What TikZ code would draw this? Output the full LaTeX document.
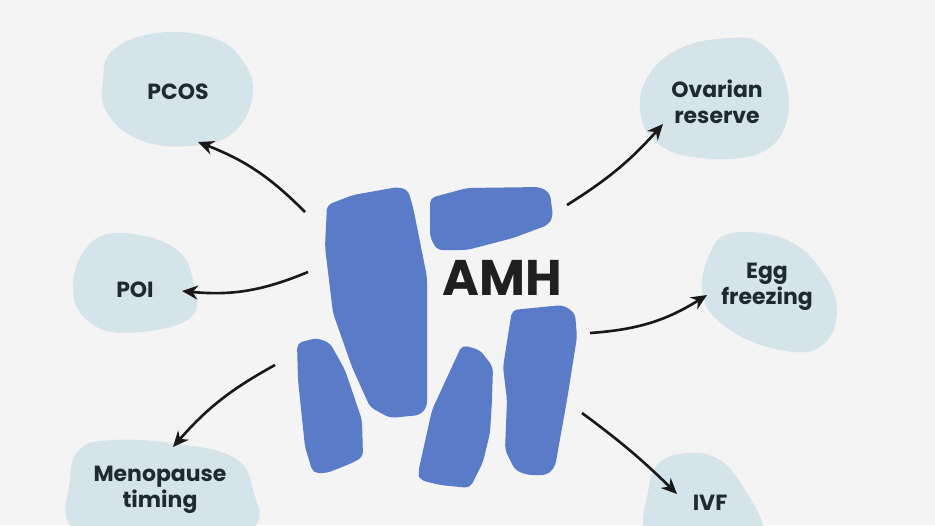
\documentclass[tikz,border=0pt]{standalone}
\usepackage{fontspec}
\setmainfont{Poppins}
\usetikzlibrary{arrows.meta}

\definecolor{bgcol}{HTML}{F5F4F4}
\definecolor{blobcol}{HTML}{D5E4EB}
\definecolor{amhblue}{HTML}{5A7BC8}
\definecolor{inkcol}{HTML}{1E2A32}

\tikzset{
  blob/.style={fill=blobcol, draw=none},
  piece/.style={fill=amhblue, draw=none, rounded corners=3pt},
  lbl/.style={align=center, text=inkcol, font=\bfseries\fontsize{12.5}{14.8}\selectfont},
  link/.style={-{Stealth[length=9pt,width=8pt]}, line width=1.5pt, draw=black!90}
}

\begin{document}
\begin{tikzpicture}[x=0.02cm, y=-0.02cm]
        % Canvas
        \useasboundingbox (0,0) rectangle (935,525);
        \fill[bgcol] (0,0) rectangle (935,525);
        \clip (0,0) rectangle (935,525);

        % Blobs behind the labels
        \fill[blob] plot[smooth cycle, tension=0.7] coordinates
            {(113,50) (157,33) (210,37) (240,57) (253,93) (233,133) (190,146) (140,140) (107,113) (103,80)};
        \fill[blob] plot[smooth cycle, tension=0.7] coordinates
            {(730,38) (760,43) (783,73) (787,120) (760,153) (700,158) (657,143) (640,110) (650,73) (683,47)};
        \fill[blob] plot[smooth cycle, tension=0.7] coordinates
            {(120,233) (173,247) (193,280) (190,318) (127,333) (87,320) (73,287) (87,247)};
        \fill[blob] plot[smooth cycle, tension=0.7] coordinates
            {(733,233) (787,240) (823,273) (837,313) (820,347) (780,350) (730,330) (703,297) (710,253)};
        \fill[blob] plot[smooth cycle, tension=0.7] coordinates
            {(113,440) (170,443) (233,457) (253,490) (250,530) (160,545) (75,530) (70,480) (80,449)};
        \fill[blob] plot[smooth cycle, tension=0.7] coordinates
            {(687,453) (720,460) (743,487) (763,525) (760,550) (650,550) (643,525) (647,497) (657,465)};

        % AMH pieces
        \fill[piece] (327,205) -- (353,195) -- (398,187) -- (408,190) -- (413,207) -- (427,277)
            -- (427,407) -- (420,415) -- (390,418) -- (370,407) -- (352,367) -- (333,313) -- (325,247) -- cycle;
        \fill[piece] (430,198) -- (467,188) -- (540,187) -- (550,193) -- (553,217) -- (548,225)
            -- (513,238) -- (467,250) -- (437,250) -- (430,237) -- cycle;
        \fill[piece] (297,343) -- (317,338) -- (330,343) -- (345,370) -- (362,420) -- (363,457)
            -- (352,463) -- (327,473) -- (313,473) -- (305,447) -- (298,380) -- cycle;
        \fill[piece] (462,345) -- (480,350) -- (493,367) -- (492,400) -- (490,433) -- (483,462)
            -- (470,488) -- (440,485) -- (420,480) -- (418,473) -- (432,410) -- cycle;
        \fill[piece] (512,310) -- (563,305) -- (575,313) -- (577,337) -- (567,400) -- (555,467)
            -- (547,475) -- (527,475) -- (515,470) -- (505,450) -- (507,400) -- (503,367) -- cycle;

        % Labels
        \node[text=black!88, font=\bfseries\fontsize{28.5}{30}\selectfont] (amh) at (502,278) {AMH};
        \node[lbl] (pcos) at (178,92) {PCOS};
        \node[lbl] (ovres) at (717,102) {Ovarian\\reserve};
        \node[lbl] (poi) at (135,290) {POI};
        \node[lbl] (egg) at (767,287) {Egg\\freezing};
        \node[lbl] (meno) at (160,490) {Menopause\\timing};
        \node[lbl] (ivf) at (710,503) {IVF};

        % Arrow ends
        \coordinate (pcos-from) at (305,212);
        \coordinate (pcos-to) at (198,142);
        \coordinate (ovres-from) at (567,205);
        \coordinate (ovres-to) at (663,124);
        \coordinate (poi-from) at (308,272);
        \coordinate (poi-to) at (182,291);
        \coordinate (egg-from) at (590,333);
        \coordinate (egg-to) at (707,295);
        \coordinate (meno-from) at (275,365);
        \coordinate (meno-to) at (173,447);
        \coordinate (ivf-from) at (582,413);
        \coordinate (ivf-to) at (677,494);

        % Arrows
        \draw[link] (pcos-from) to[bend right=12] (pcos-to);
        \draw[link] (ovres-from) to[bend right=8] (ovres-to);
        \draw[link] (poi-from) to[bend left=14] (poi-to);
        \draw[link] (egg-from) to[bend right=14] (egg-to);
        \draw[link] (meno-from) to[bend right=10] (meno-to);
        \draw[link] (ivf-from) to[bend left=4] (ivf-to);
    \end{tikzpicture}
\end{document}
